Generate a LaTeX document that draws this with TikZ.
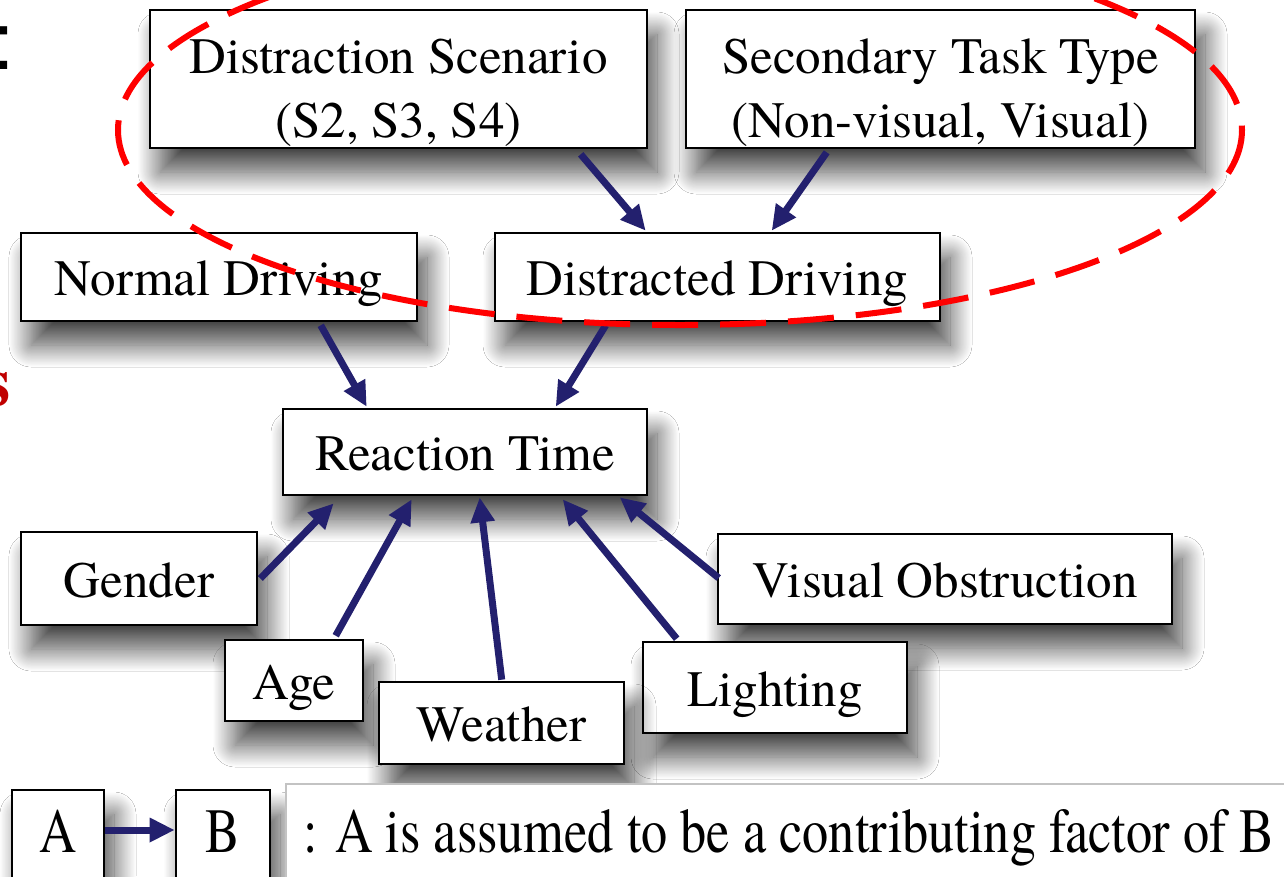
\documentclass[tikz,border=0pt]{standalone}
\usepackage{graphicx}
\usepackage{fontspec}
\setmainfont{texgyretermes-regular.otf}[BoldFont=texgyretermes-bold.otf]
\newfontfamily\titlesans{Liberation Sans}
\usetikzlibrary{arrows.meta,shadows.blur,calc}
\definecolor{linknavy}{RGB}{35,32,110}
\definecolor{ringred}{RGB}{255,0,0}
\definecolor{headred}{RGB}{192,0,0}
\definecolor{panelgray}{RGB}{195,195,195}
\begin{document}
\begin{tikzpicture}[x=1pt,y=-1pt,
  factor/.style={draw=black,line width=2.6pt,fill=white,inner sep=0pt,
    font=\fontsize{51}{64}\selectfont,text height=48pt,text depth=11pt,
    blur shadow={shadow xshift=10pt,shadow yshift=-24pt,shadow blur radius=22pt,
      shadow blur steps=30,shadow opacity=72}},
  pairbox/.style={factor,align=center,text height=127pt,text depth=11pt},
  keybox/.style={factor,font=\fontsize{63}{70}\selectfont,text height=24pt,text depth=0pt},
  link/.style={draw=linknavy,line width=7pt,-{Triangle[length=25pt,width=23pt]}},
  ring/.style={draw=ringred,line width=6pt,dash pattern=on 46pt off 22pt},
]
\useasboundingbox (0,0) rectangle (1284,876);
\clip (0,0) rectangle (1284,876);
\fill[white] (0,0) rectangle (1284,876);

% fragments of the surrounding slide text
\node[font=\titlesans\fontsize{81}{81}\selectfont,anchor=base west,inner sep=0pt] (colonmark) at (-8,69) {:};
\node[font=\bfseries\fontsize{70}{70}\selectfont,text=headred,anchor=base west,inner sep=0pt] (redmark) at (-17,405) {s};

% factor boxes
\node[pairbox,minimum width=497pt,minimum height=136pt] (scen) at (398.5,79) {Distraction Scenario\\(S2, S3, S4)};
\node[pairbox,minimum width=509pt,minimum height=138pt] (task) at (940.5,79) {Secondary Task Type\\(Non-visual, Visual)};
\node[factor,minimum width=396pt,minimum height=88pt] (norm) at (219,277) {Normal Driving};
\node[factor,minimum width=445pt,minimum height=88pt] (drv) at (717.5,277) {Distracted Driving};
\node[factor,minimum width=364pt,minimum height=86pt] (rt) at (465,452) {Reaction Time};
\node[factor,minimum width=236pt,minimum height=93pt] (gend) at (139,578.5) {Gender};
\node[factor,minimum width=454pt,minimum height=90pt] (vis) at (945,579) {Visual Obstruction};
\node[factor,minimum width=138pt,minimum height=81pt] (age) at (294,680.5) {Age};
\node[factor,minimum width=264pt,minimum height=91pt] (light) at (775,687.5) {Lighting};
\node[factor,minimum width=245pt,minimum height=82pt] (wea) at (501.5,723) {Weather};

% legend
\node[keybox,minimum width=92pt,minimum height=100pt] (keyA) at (58,840) {\scalebox{0.82}[1]{A}};
\node[keybox,minimum width=94pt,minimum height=100pt] (keyB) at (223,840) {\scalebox{0.82}[1]{B}};
\node[draw=panelgray,line width=1.5pt,fill=white,anchor=north west,
      minimum width=1020pt,minimum height=120pt] (panel) at (285,783) {};
\node[anchor=base west,inner sep=0pt,font=\fontsize{63}{70}\selectfont] (keytext) at (303,852)
  {\scalebox{0.83}[1]{: A is assumed to be a contributing factor of B}};

% influence arrows
\draw[link] ($(scen.south west)+(432,5)$) -- ($(drv.north west)+(152,-1)$);
\draw[link] ($(task.south west)+(142,3)$) -- ($(drv.north west)+(278,-1)$);
\draw[link] ($(norm.south west)+(301,3)$) -- ($(rt.north west)+(85,-1)$);
\draw[link] ($(drv.south west)+(112,3)$) -- ($(rt.north west)+(274,-1)$);
\draw[link] ($(gend.east)+(2,0)$) -- ($(rt.south west)+(52,7)$);
\draw[link] ($(age.north west)+(112,-3)$) -- ($(rt.south west)+(130,3)$);
\draw[link] ($(wea.north west)+(124,-1)$) -- ($(rt.south west)+(198,1)$);
\draw[link] ($(light.north west)+(35,-2)$) -- ($(rt.south west)+(281,3)$);
\draw[link] ($(vis.west)+(2,-1)$) -- ($(rt.south west)+(338,1)$);
\draw[link] ($(keyA.east)+(0,-10)$) -- ($(keyB.west)+(0,-10)$);

% grouping of the distraction conditions
\path[ring] (680,130) ellipse [x radius=562,y radius=195];
\end{tikzpicture}
\end{document}
